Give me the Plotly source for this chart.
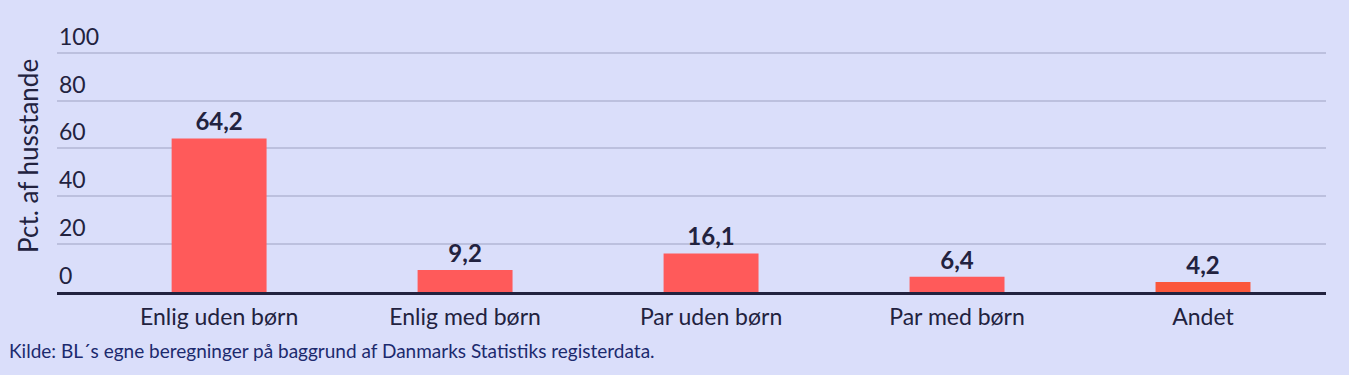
import plotly.graph_objects as go

categories = ["Enlig uden børn", "Enlig med børn", "Par uden børn", "Par med børn", "Andet"]
values = [64.2, 9.2, 16.1, 6.4, 4.2]
value_labels = ["64,2", "9,2", "16,1", "6,4", "4,2"]
bar_colors = ["#FF5A5A", "#FF5A5A", "#FF5A5A", "#FF5A5A", "#FB573B"]
y_ticks = [0, 20, 40, 60, 80, 100]
y_title = "Pct. af husstande"
source = "Kilde: BL´s egne beregninger på baggrund af Danmarks Statistiks registerdata."

FONT = "Lato"
NAVY = "#22223F"
TOP_PX, ZERO_PX = 48.2, 292  # pixel rows for y=102 and y=0
PLOT_H = ZERO_PX - TOP_PX

fig = go.Figure()
fig.add_trace(go.Bar(
    x=list(range(len(categories))), y=values,
    marker=dict(color=bar_colors, line=dict(width=0)),
    width=0.386,
    text=value_labels, textposition="outside",
    textfont=dict(family=FONT, size=24, color=NAVY, weight="bold"),
    cliponaxis=False,
    hoverinfo="skip",
))

annotations = []
for t in y_ticks:
    annotations.append(dict(
        x=0, xref="paper", y=t, yref="y", yshift=1,
        text=str(t), showarrow=False, xanchor="left", yanchor="bottom",
        font=dict(family=FONT, size=23, color=NAVY),
    ))
annotations.append(dict(
    x=-(57 - 28) / 1269, xref="paper", y=(ZERO_PX - 156) / PLOT_H, yref="paper", yanchor="middle",
    text=y_title, textangle=-90, showarrow=False, xanchor="center",
    font=dict(family=FONT, size=26, color=NAVY),
))
annotations.append(dict(
    x=-(57 - 7) / 1269, xref="paper", y=(ZERO_PX - 350) / PLOT_H, yref="paper",
    text=source, showarrow=False, xanchor="left", yanchor="middle",
    font=dict(family=FONT, size=19, color="#1C2A6E"),
))

fig.update_layout(
    width=1349, height=375,
    margin=dict(l=57, r=23, t=48, b=83),
    paper_bgcolor="#DADEFA", plot_bgcolor="#DADEFA",
    showlegend=False,
    xaxis=dict(
        range=[-0.659, 4.5],
        tickmode="array", tickvals=list(range(len(categories))), ticktext=categories,
        tickfont=dict(family=FONT, size=23, color=NAVY),
        showgrid=False, zeroline=False,
        showline=True, linecolor=NAVY, linewidth=3,
        ticks="", ticklabelstandoff=2,
    ),
    yaxis=dict(
        range=[0, 102],
        tickvals=y_ticks, showticklabels=False,
        showgrid=True, gridcolor="#BCC0DE", gridwidth=1.5,
        zeroline=False, showline=False,
    ),
    annotations=annotations,
)

fig.write_html("out.html")
